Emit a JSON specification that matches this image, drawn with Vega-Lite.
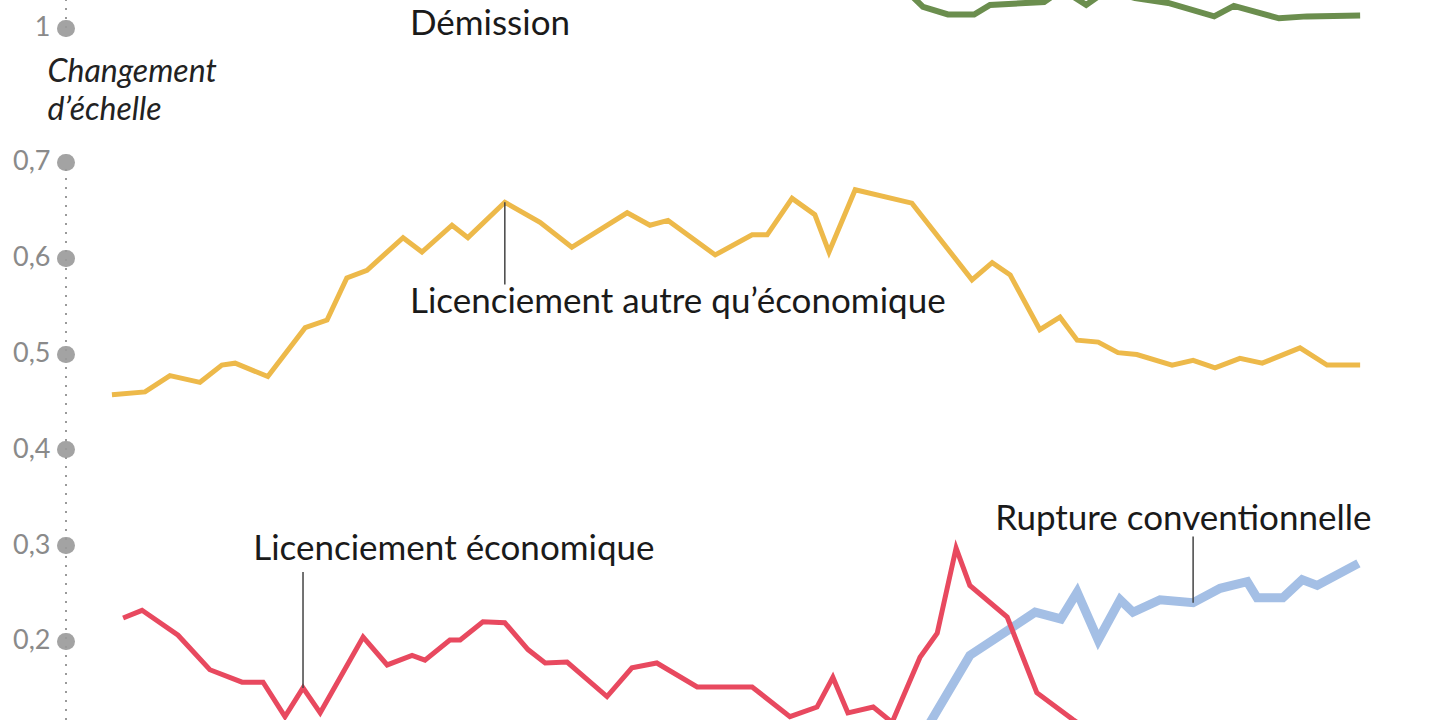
{
  "$schema": "https://vega.github.io/schema/vega-lite/v6.json",
  "width": 1374,
  "height": 720,
  "autosize": {"type": "none"},
  "padding": {"left": 66, "top": 0, "right": 0, "bottom": 0},
  "background": "white",
  "config": {
    "font": "Lato",
    "view": {"stroke": null},
    "axis": {"labelFont": "Lato", "titleFont": "Lato"}
  },
  "datasets": {
    "series": [
      {"motif": "Licenciement autre", "annee": 1989.07, "valeur": 0.457},
      {"motif": "Licenciement autre", "annee": 1989.84, "valeur": 0.460},
      {"motif": "Licenciement autre", "annee": 1990.42, "valeur": 0.477},
      {"motif": "Licenciement autre", "annee": 1991.12, "valeur": 0.470},
      {"motif": "Licenciement autre", "annee": 1991.63, "valeur": 0.488},
      {"motif": "Licenciement autre", "annee": 1991.94, "valeur": 0.490},
      {"motif": "Licenciement autre", "annee": 1992.70, "valeur": 0.476},
      {"motif": "Licenciement autre", "annee": 1993.57, "valeur": 0.527},
      {"motif": "Licenciement autre", "annee": 1994.08, "valeur": 0.535},
      {"motif": "Licenciement autre", "annee": 1994.54, "valeur": 0.579},
      {"motif": "Licenciement autre", "annee": 1995.01, "valeur": 0.587},
      {"motif": "Licenciement autre", "annee": 1995.85, "valeur": 0.621},
      {"motif": "Licenciement autre", "annee": 1996.29, "valeur": 0.606},
      {"motif": "Licenciement autre", "annee": 1996.99, "valeur": 0.634},
      {"motif": "Licenciement autre", "annee": 1997.36, "valeur": 0.621},
      {"motif": "Licenciement autre", "annee": 1998.22, "valeur": 0.658},
      {"motif": "Licenciement autre", "annee": 1999.04, "valeur": 0.637},
      {"motif": "Licenciement autre", "annee": 1999.78, "valeur": 0.611},
      {"motif": "Licenciement autre", "annee": 2001.07, "valeur": 0.647},
      {"motif": "Licenciement autre", "annee": 2001.60, "valeur": 0.634},
      {"motif": "Licenciement autre", "annee": 2002.02, "valeur": 0.639},
      {"motif": "Licenciement autre", "annee": 2003.12, "valeur": 0.603},
      {"motif": "Licenciement autre", "annee": 2003.98, "valeur": 0.624},
      {"motif": "Licenciement autre", "annee": 2004.33, "valeur": 0.624},
      {"motif": "Licenciement autre", "annee": 2004.91, "valeur": 0.662},
      {"motif": "Licenciement autre", "annee": 2005.44, "valeur": 0.645},
      {"motif": "Licenciement autre", "annee": 2005.77, "valeur": 0.606},
      {"motif": "Licenciement autre", "annee": 2006.38, "valeur": 0.671},
      {"motif": "Licenciement autre", "annee": 2007.70, "valeur": 0.657},
      {"motif": "Licenciement autre", "annee": 2009.10, "valeur": 0.577},
      {"motif": "Licenciement autre", "annee": 2009.57, "valeur": 0.595},
      {"motif": "Licenciement autre", "annee": 2009.99, "valeur": 0.582},
      {"motif": "Licenciement autre", "annee": 2010.68, "valeur": 0.525},
      {"motif": "Licenciement autre", "annee": 2011.15, "valeur": 0.538},
      {"motif": "Licenciement autre", "annee": 2011.55, "valeur": 0.514},
      {"motif": "Licenciement autre", "annee": 2012.04, "valeur": 0.512},
      {"motif": "Licenciement autre", "annee": 2012.50, "valeur": 0.501},
      {"motif": "Licenciement autre", "annee": 2012.94, "valeur": 0.499},
      {"motif": "Licenciement autre", "annee": 2013.76, "valeur": 0.488},
      {"motif": "Licenciement autre", "annee": 2014.25, "valeur": 0.493},
      {"motif": "Licenciement autre", "annee": 2014.76, "valeur": 0.485},
      {"motif": "Licenciement autre", "annee": 2015.34, "valeur": 0.495},
      {"motif": "Licenciement autre", "annee": 2015.86, "valeur": 0.490},
      {"motif": "Licenciement autre", "annee": 2016.74, "valeur": 0.506},
      {"motif": "Licenciement autre", "annee": 2017.37, "valeur": 0.488},
      {"motif": "Licenciement autre", "annee": 2018.14, "valeur": 0.488},

      {"motif": "Licenciement économique", "annee": 1989.33, "valeur": 0.224},
      {"motif": "Licenciement économique", "annee": 1989.77, "valeur": 0.232},
      {"motif": "Licenciement économique", "annee": 1990.61, "valeur": 0.206},
      {"motif": "Licenciement économique", "annee": 1991.35, "valeur": 0.170},
      {"motif": "Licenciement économique", "annee": 1992.10, "valeur": 0.157},
      {"motif": "Licenciement économique", "annee": 1992.59, "valeur": 0.157},
      {"motif": "Licenciement économique", "annee": 1993.10, "valeur": 0.121},
      {"motif": "Licenciement économique", "annee": 1993.52, "valeur": 0.151},
      {"motif": "Licenciement économique", "annee": 1993.92, "valeur": 0.125},
      {"motif": "Licenciement économique", "annee": 1994.92, "valeur": 0.204},
      {"motif": "Licenciement économique", "annee": 1995.48, "valeur": 0.175},
      {"motif": "Licenciement économique", "annee": 1996.06, "valeur": 0.185},
      {"motif": "Licenciement économique", "annee": 1996.36, "valeur": 0.180},
      {"motif": "Licenciement économique", "annee": 1996.94, "valeur": 0.201},
      {"motif": "Licenciement économique", "annee": 1997.18, "valeur": 0.201},
      {"motif": "Licenciement économique", "annee": 1997.71, "valeur": 0.220},
      {"motif": "Licenciement économique", "annee": 1998.22, "valeur": 0.219},
      {"motif": "Licenciement économique", "annee": 1998.76, "valeur": 0.191},
      {"motif": "Licenciement économique", "annee": 1999.16, "valeur": 0.177},
      {"motif": "Licenciement économique", "annee": 1999.67, "valeur": 0.178},
      {"motif": "Licenciement économique", "annee": 2000.60, "valeur": 0.142},
      {"motif": "Licenciement économique", "annee": 2001.18, "valeur": 0.172},
      {"motif": "Licenciement économique", "annee": 2001.76, "valeur": 0.177},
      {"motif": "Licenciement économique", "annee": 2002.70, "valeur": 0.152},
      {"motif": "Licenciement économique", "annee": 2003.98, "valeur": 0.152},
      {"motif": "Licenciement économique", "annee": 2004.86, "valeur": 0.121},
      {"motif": "Licenciement économique", "annee": 2005.49, "valeur": 0.131},
      {"motif": "Licenciement économique", "annee": 2005.86, "valeur": 0.162},
      {"motif": "Licenciement économique", "annee": 2006.21, "valeur": 0.125},
      {"motif": "Licenciement économique", "annee": 2006.80, "valeur": 0.131},
      {"motif": "Licenciement économique", "annee": 2007.24, "valeur": 0.115},
      {"motif": "Licenciement économique", "annee": 2007.89, "valeur": 0.183},
      {"motif": "Licenciement économique", "annee": 2008.29, "valeur": 0.208},
      {"motif": "Licenciement économique", "annee": 2008.73, "valeur": 0.297},
      {"motif": "Licenciement économique", "annee": 2009.05, "valeur": 0.258},
      {"motif": "Licenciement économique", "annee": 2009.92, "valeur": 0.225},
      {"motif": "Licenciement économique", "annee": 2010.61, "valeur": 0.146},
      {"motif": "Licenciement économique", "annee": 2011.45, "valeur": 0.118},
      {"motif": "Licenciement économique", "annee": 2012.32, "valeur": 0.091},

      {"motif": "Rupture conventionnelle", "annee": 2007.89, "valeur": 0.097},
      {"motif": "Rupture conventionnelle", "annee": 2009.05, "valeur": 0.185},
      {"motif": "Rupture conventionnelle", "annee": 2010.57, "valeur": 0.230},
      {"motif": "Rupture conventionnelle", "annee": 2011.17, "valeur": 0.223},
      {"motif": "Rupture conventionnelle", "annee": 2011.55, "valeur": 0.251},
      {"motif": "Rupture conventionnelle", "annee": 2012.04, "valeur": 0.201},
      {"motif": "Rupture conventionnelle", "annee": 2012.55, "valeur": 0.243},
      {"motif": "Rupture conventionnelle", "annee": 2012.85, "valeur": 0.230},
      {"motif": "Rupture conventionnelle", "annee": 2013.48, "valeur": 0.243},
      {"motif": "Rupture conventionnelle", "annee": 2014.25, "valeur": 0.240},
      {"motif": "Rupture conventionnelle", "annee": 2014.88, "valeur": 0.255},
      {"motif": "Rupture conventionnelle", "annee": 2015.51, "valeur": 0.262},
      {"motif": "Rupture conventionnelle", "annee": 2015.74, "valeur": 0.245},
      {"motif": "Rupture conventionnelle", "annee": 2016.34, "valeur": 0.245},
      {"motif": "Rupture conventionnelle", "annee": 2016.79, "valeur": 0.264},
      {"motif": "Rupture conventionnelle", "annee": 2017.14, "valeur": 0.258},
      {"motif": "Rupture conventionnelle", "annee": 2018.10, "valeur": 0.281},

      {"motif": "Démission", "annee": 2007.31, "valeur": 1.050},
      {"motif": "Démission", "annee": 2007.96, "valeur": 1.022},
      {"motif": "Démission", "annee": 2008.54, "valeur": 1.014},
      {"motif": "Démission", "annee": 2009.15, "valeur": 1.014},
      {"motif": "Démission", "annee": 2009.52, "valeur": 1.024},
      {"motif": "Démission", "annee": 2010.78, "valeur": 1.027},
      {"motif": "Démission", "annee": 2011.20, "valeur": 1.040},
      {"motif": "Démission", "annee": 2011.76, "valeur": 1.024},
      {"motif": "Démission", "annee": 2012.27, "valeur": 1.040},
      {"motif": "Démission", "annee": 2012.90, "valeur": 1.031},
      {"motif": "Démission", "annee": 2013.67, "valeur": 1.026},
      {"motif": "Démission", "annee": 2014.74, "valeur": 1.012},
      {"motif": "Démission", "annee": 2015.20, "valeur": 1.023},
      {"motif": "Démission", "annee": 2016.25, "valeur": 1.010},
      {"motif": "Démission", "annee": 2016.90, "valeur": 1.012},
      {"motif": "Démission", "annee": 2018.14, "valeur": 1.013}
    ],
    "axe_bas": [{"annee": 1988, "de": 0.1175, "a": 0.7}],
    "axe_haut": [{"annee": 1988, "de": 1, "a": 1.0291}],
    "reperes": [
      {"annee": 1998.22, "de": 0.572, "a": 0.658},
      {"annee": 1993.52, "de": 0.272, "a": 0.151},
      {"annee": 2014.25, "de": 0.309, "a": 0.240}
    ],
    "etiquettes_bas": [
      {"texte": "Licenciement autre qu’économique", "annee": 1996.01, "valeur": 0.5424},
      {"texte": "Licenciement économique", "annee": 1992.36, "valeur": 0.2846},
      {"texte": "Rupture conventionnelle", "annee": 2009.64, "valeur": 0.3159}
    ],
    "etiquettes_haut": [
      {"texte": "Démission", "annee": 1996.01, "valeur": 0.9926}
    ]
  },
  "layer": [
    {
      "data": {"name": "axe_bas"},
      "mark": {"type": "rule", "color": "#9a9a9a", "strokeWidth": 2, "strokeDash": [2, 7]},
      "encoding": {
        "x": {"field": "annee", "type": "quantitative", "scale": {"domain": [1988, 2020], "nice": false, "zero": false}, "axis": null},
        "y": {"field": "de", "type": "quantitative", "scale": {"domain": [0.1175, 0.8691], "nice": false, "zero": false}, "axis": null},
        "y2": {"field": "a"}
      }
    },
    {
      "data": {"name": "axe_haut"},
      "mark": {"type": "rule", "color": "#9a9a9a", "strokeWidth": 2, "strokeDash": [2, 7]},
      "encoding": {
        "x": {"field": "annee", "type": "quantitative", "scale": {"domain": [1988, 2020], "nice": false, "zero": false}, "axis": null},
        "y": {"field": "de", "type": "quantitative", "scale": {"domain": [0.2775, 1.0291], "nice": false, "zero": false}, "axis": null},
        "y2": {"field": "a"}
      }
    },
    {
      "data": {"name": "series"},
      "transform": [{"filter": "datum.motif === 'Rupture conventionnelle'"}],
      "mark": {"type": "line", "clip": true, "color": "#a4bfe5", "strokeWidth": 9},
      "encoding": {
        "x": {"field": "annee", "type": "quantitative", "scale": {"domain": [1988, 2020], "nice": false, "zero": false}, "axis": null},
        "y": {"field": "valeur", "type": "quantitative", "scale": {"domain": [0.1175, 0.8691], "nice": false, "zero": false}, "axis": null}
      }
    },
    {
      "data": {"name": "series"},
      "transform": [{"filter": "datum.motif === 'Licenciement autre' || datum.motif === 'Licenciement économique'"}],
      "mark": {"type": "line", "clip": true, "strokeWidth": 5},
      "encoding": {
        "x": {"field": "annee", "type": "quantitative", "scale": {"domain": [1988, 2020], "nice": false, "zero": false}, "axis": null},
        "y": {
          "field": "valeur",
          "type": "quantitative",
          "scale": {"domain": [0.1175, 0.8691], "nice": false, "zero": false},
          "axis": {
            "orient": "left",
            "values": [0.2, 0.3, 0.4, 0.5, 0.6, 0.7],
            "format": ".1f",
            "labelExpr": "replace(datum.label, '.', ',')",
            "domain": false,
            "grid": false,
            "ticks": true,
            "tickSize": 1,
            "tickWidth": 17,
            "tickCap": "round",
            "tickColor": "#a3a3a3",
            "labelColor": "#8a8a8a",
            "labelFontSize": 27,
            "labelFontWeight": "normal",
            "labelPadding": 15,
            "title": ["Changement", "d’échelle"],
            "titleAngle": 0,
            "titleAlign": "left",
            "titleBaseline": "top",
            "titleX": -19,
            "titleY": 56,
            "titleFontStyle": "italic",
            "titleFontWeight": "normal",
            "titleFontSize": 32,
            "titleColor": "#222222",
            "titleLineHeight": 38
          }
        },
        "color": {
          "field": "motif",
          "type": "nominal",
          "legend": null,
          "scale": {"domain": ["Licenciement autre", "Licenciement économique"], "range": ["#edb94a", "#e8495f"]}
        }
      }
    },
    {
      "data": {"name": "reperes"},
      "mark": {"type": "rule", "color": "#444444", "strokeWidth": 1.5},
      "encoding": {
        "x": {"field": "annee", "type": "quantitative", "scale": {"domain": [1988, 2020], "nice": false, "zero": false}, "axis": null},
        "y": {"field": "de", "type": "quantitative", "scale": {"domain": [0.1175, 0.8691], "nice": false, "zero": false}, "axis": null},
        "y2": {"field": "a"}
      }
    },
    {
      "data": {"name": "etiquettes_bas"},
      "mark": {"type": "text", "align": "left", "baseline": "alphabetic", "fontSize": 35, "color": "#1a1a1a"},
      "encoding": {
        "x": {"field": "annee", "type": "quantitative", "scale": {"domain": [1988, 2020], "nice": false, "zero": false}, "axis": null},
        "y": {"field": "valeur", "type": "quantitative", "scale": {"domain": [0.1175, 0.8691], "nice": false, "zero": false}, "axis": null},
        "text": {"field": "texte"}
      }
    },
    {
      "data": {"name": "series"},
      "transform": [{"filter": "datum.motif === 'Démission'"}],
      "mark": {"type": "line", "clip": true, "color": "#6b8e4e", "strokeWidth": 6},
      "encoding": {
        "x": {"field": "annee", "type": "quantitative", "scale": {"domain": [1988, 2020], "nice": false, "zero": false}, "axis": null},
        "y": {
          "field": "valeur",
          "type": "quantitative",
          "scale": {"domain": [0.2775, 1.0291], "nice": false, "zero": false},
          "axis": {
            "orient": "left",
            "values": [1],
            "format": ".0f",
            "domain": false,
            "grid": false,
            "ticks": true,
            "tickSize": 1,
            "tickWidth": 17,
            "tickCap": "round",
            "tickColor": "#a3a3a3",
            "labelColor": "#8a8a8a",
            "labelFontSize": 27,
            "labelFontWeight": "normal",
            "labelPadding": 15,
            "title": null
          }
        }
      }
    },
    {
      "data": {"name": "etiquettes_haut"},
      "mark": {"type": "text", "align": "left", "baseline": "alphabetic", "fontSize": 35, "color": "#1a1a1a"},
      "encoding": {
        "x": {"field": "annee", "type": "quantitative", "scale": {"domain": [1988, 2020], "nice": false, "zero": false}, "axis": null},
        "y": {"field": "valeur", "type": "quantitative", "scale": {"domain": [0.2775, 1.0291], "nice": false, "zero": false}, "axis": null},
        "text": {"field": "texte"}
      }
    }
  ],
  "resolve": {"scale": {"y": "independent"}, "axis": {"y": "independent"}}
}
